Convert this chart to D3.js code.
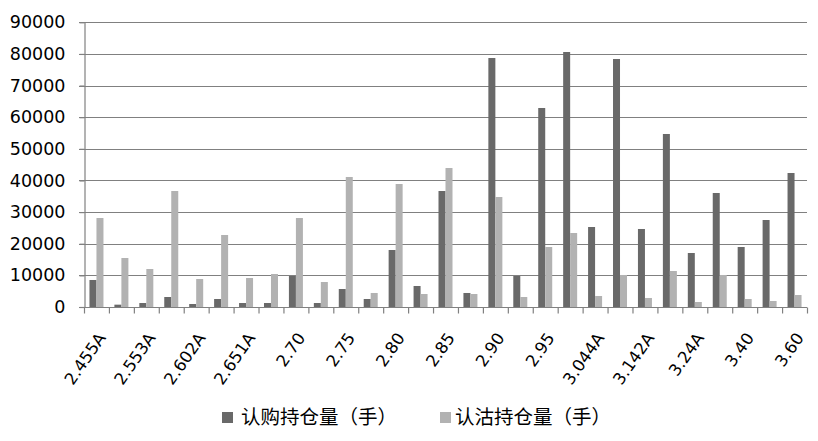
<!DOCTYPE html>
<html><head><meta charset="utf-8">
<script src="https://cdn.jsdelivr.net/npm/d3@7/dist/d3.min.js"></script>
<style>body{margin:0;background:#fff}svg{display:block}</style>
</head><body><svg id="c" width="818" height="441"></svg>
<script>
const categories = ["2.455A","2.504A","2.553A","2.578A","2.602A","2.627A","2.651A","2.676A","2.70","2.701A","2.75","2.750A","2.80","2.799A","2.85","2.848A","2.90","2.897A","2.95","2.946A","3.044A","3.093A","3.142A","3.191A","3.24A","3.30","3.40","3.50","3.60"];
const callOI = [8540,740,1260,3160,950,2530,1260,1260,9800,1260,5690,2530,18020,6640,36670,4430,78710,9800,62910,80610,25290,78400,24660,54690,17070,36040,18970,27500,42360];
const putOI  = [28130,15490,12010,36670,8850,22760,9170,10430,28130,7900,41100,4430,38880,4110,43940,4110,34770,3160,18970,23390,3480,10120,2850,11380,1580,10120,2530,1900,3790];
const seriesNames = ["认购持仓量（手）","认沽持仓量（手）"];
const yTicks = [0,10000,20000,30000,40000,50000,60000,70000,80000,90000];
const colors = ["#696969","#b2b2b2"];

const svg = d3.select("#c");
const L = 84, R = 807, T = 22.3, B = 307;
const x = d3.scaleBand().domain(categories).range([L, R]).padding(0);
const y = d3.scaleLinear().domain([0, 90000]).range([B, T]);
const bw = 7;
const font = "'DejaVu Sans', Verdana, sans-serif";
const gridColor = "#808080";

// gridlines
svg.append("g").selectAll("line").data(yTicks.slice(1)).join("line")
  .attr("x1", L - 5).attr("x2", R).attr("y1", d => Math.round(y(d)) + 0.5).attr("y2", d => Math.round(y(d)) + 0.5)
  .attr("stroke", gridColor).attr("stroke-width", 1.2);

// bars
const g = svg.append("g");
categories.forEach((c, i) => {
  const cx = x(c) + x.bandwidth() / 2;
  g.append("rect").attr("x", cx - bw).attr("width", bw).attr("y", y(callOI[i])).attr("height", B - y(callOI[i])).attr("fill", colors[0]);
  g.append("rect").attr("x", cx).attr("width", bw).attr("y", y(putOI[i])).attr("height", B - y(putOI[i])).attr("fill", colors[1]);
});

// y axis
const ya = svg.append("g").attr("transform", `translate(${L + 0.5},0)`)
  .call(d3.axisLeft(y).tickValues(yTicks).tickFormat(d3.format("d")).tickSize(5).tickSizeOuter(0).tickPadding(14));
ya.selectAll("path,line").attr("stroke", gridColor).attr("stroke-width", 1.2);
ya.selectAll("text").attr("font-family", font).attr("font-size", 17.5).attr("fill", "#000");

// x axis boundary ticks
const xb = d3.scaleLinear().domain([0, categories.length]).range([L, R]);
const xa = svg.append("g").attr("transform", `translate(0,${B + 0.5})`)
  .call(d3.axisBottom(xb).tickValues(d3.range(categories.length + 1)).tickFormat("").tickSize(6).tickSizeOuter(0));
xa.selectAll("path,line").attr("stroke", gridColor).attr("stroke-width", 1.2);
xa.select("path").attr("d", `M${L - 5},0H${R}`);

// x labels (every other category)
const xl = svg.append("g").attr("transform", `translate(0,${B})`)
  .call(d3.axisBottom(x).tickValues(categories.filter((d, i) => i % 2 === 0)).tickSize(0));
xl.select("path").remove();
xl.selectAll("text").attr("font-family", font).attr("font-size", 16.5).attr("fill", "#000")
  .attr("text-anchor", "end").attr("dy", 0).attr("y", 0)
  .attr("transform", "translate(10,31) rotate(-55)");

// legend
const leg = [[222, 241], [440, 455]];
seriesNames.forEach((n, i) => {
  svg.append("rect").attr("x", leg[i][0]).attr("y", 412).attr("width", 11).attr("height", 11).attr("fill", colors[i]);
  svg.append("text").attr("x", leg[i][1]).attr("y", 415).attr("dominant-baseline", "central")
    .attr("font-family", "'Noto Sans CJK SC', sans-serif").attr("font-size", 19.5).attr("fill", "#000").text(n);
});
</script></body></html>
